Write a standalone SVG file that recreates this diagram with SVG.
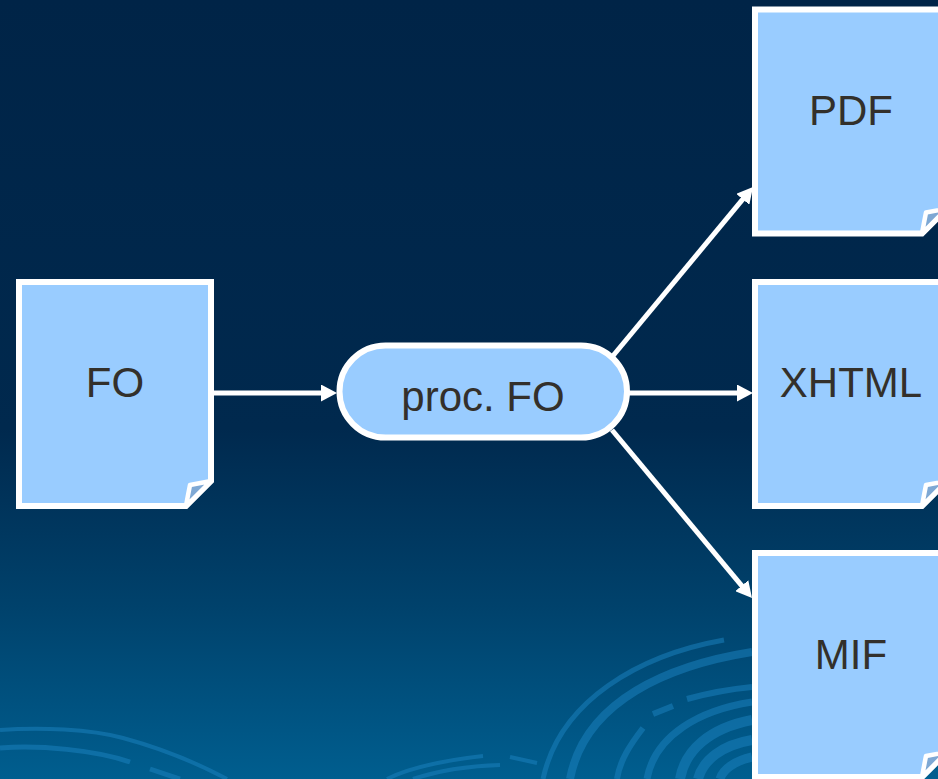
<svg xmlns="http://www.w3.org/2000/svg" xmlns:xlink="http://www.w3.org/1999/xlink" width="938" height="779" viewBox="0 0 938 779">
  <style>
    .page { fill: #99ccff; stroke: #ffffff; stroke-width: 6; stroke-linejoin: miter; }
    .curl { fill: #7ea8d4; stroke: #ffffff; stroke-width: 4.5; stroke-linejoin: round; }
    .label { font-family: "Liberation Sans", Arial, sans-serif; font-size: 42px; fill: #33302b; text-anchor: middle; }
    .edge { fill: none; stroke: #ffffff; stroke-width: 5; marker-end: url(#arrow); }
    .swirl { fill: none; stroke: #1a82c0; stroke-opacity: 0.52; stroke-linecap: butt; }
  </style>
  <defs>
    <linearGradient id="bg" x1="0" y1="0" x2="0" y2="1">
      <stop offset="0" stop-color="#002447"/>
      <stop offset="0.55" stop-color="#00294e"/>
      <stop offset="0.78" stop-color="#00426c"/>
      <stop offset="1" stop-color="#005e8f"/>
    </linearGradient>
    <marker id="arrow" viewBox="0 0 16 17" refX="6" refY="8.5" markerWidth="16" markerHeight="17" markerUnits="userSpaceOnUse" orient="auto">
      <path d="M0,0 L16,8.5 L0,17 Z" fill="#ffffff"/>
    </marker>
    <!-- document page with a dog-eared bottom-right corner -->
    <g id="doc">
      <path class="page" d="M0,0 H192 V199 L167,224 H0 Z"/>
      <path class="curl" d="M192,199 L171,203 Q169,213 167,224 Z"/>
    </g>
  </defs>

  <!-- background -->
  <rect x="0" y="0" width="938" height="779" fill="url(#bg)"/>
  <g id="swirls">
    <path class="swirl" stroke-width="5" d="M724,640 C640,655 560,700 543,779"/>
    <path class="swirl" stroke-width="8" d="M752,652 C670,665 585,700 570,779"/>
    <path class="swirl" stroke-width="6" d="M687,699 Q720,690 752,687"/>
    <path class="swirl" stroke-width="6" d="M653,714 L673,706"/>
    <path class="swirl" stroke-width="6" d="M643,728 C630,745 620,760 617,779"/>
    <path class="swirl" stroke-width="7" d="M752,702 C700,710 655,735 647,779"/>
    <path class="swirl" stroke-width="10" d="M752,720 C710,728 685,750 680,779"/>
    <path class="swirl" stroke-width="10" d="M752,740 C722,745 703,760 698,779"/>
    <path class="swirl" stroke-width="9" d="M752,757 C735,761 723,769 720,779"/>
    <path class="swirl" stroke-width="4" d="M387,779 C405,770 430,762 483,756"/>
    <path class="swirl" stroke-width="4" d="M510,757 L537,763"/>
    <path class="swirl" stroke-width="4" d="M413,779 C440,770 470,766 500,765"/>
    <path class="swirl" stroke-width="4" d="M0,730 C40,727 90,729 123,738 C160,748 195,762 227,779"/>
    <path class="swirl" stroke-width="5" d="M0,748 C40,745 95,750 130,762"/>
    <path class="swirl" stroke-width="5" d="M150,769 L180,779"/>
  </g>

  <!-- connectors -->
  <g id="connectors">
    <line class="edge" x1="211" y1="393" x2="327" y2="393"/>
    <line class="edge" x1="612" y1="357" x2="746.6" y2="194.7"/>
    <line class="edge" x1="627" y1="393" x2="743" y2="393"/>
    <line class="edge" x1="612" y1="430" x2="745.6" y2="590.3"/>
  </g>

  <!-- nodes -->
  <g id="node-fo">
    <use xlink:href="#doc" transform="translate(19,282)"/>
    <text class="label" x="115" y="397">FO</text>
  </g>
  <g id="node-proc">
    <rect x="339.5" y="345.5" width="287.5" height="92" rx="46" ry="46" fill="#99ccff" stroke="#ffffff" stroke-width="6"/>
    <text class="label" x="483" y="410.5">proc. FO</text>
  </g>
  <g id="node-pdf">
    <use xlink:href="#doc" transform="translate(755,9.5)"/>
    <text class="label" x="851" y="125">PDF</text>
  </g>
  <g id="node-xhtml">
    <use xlink:href="#doc" transform="translate(755,282)"/>
    <text class="label" x="851" y="397">XHTML</text>
  </g>
  <g id="node-mif">
    <use xlink:href="#doc" transform="translate(755,553)"/>
    <text class="label" x="851" y="669">MIF</text>
  </g>
</svg>
